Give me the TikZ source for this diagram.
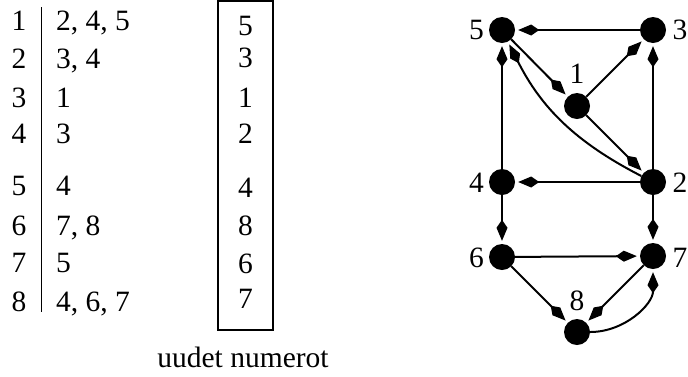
\documentclass[tikz,border=0pt]{standalone}
\usepackage{fontspec}
\setmainfont{Liberation Serif}
\usetikzlibrary{arrows.meta}
\begin{document}
\begin{tikzpicture}[x=1pt,y=-1pt,
  txt/.style={inner sep=0pt,font=\fontsize{29.5}{34}\selectfont},
  vert/.style={circle,fill=black,inner sep=0pt,minimum size=26pt},
  arr/.style={line width=2pt,-{Kite[length=21pt,width=11pt,inset=8pt]},shorten >=3pt},
]
\useasboundingbox (0,0) rectangle (688,376);
% adjacency table
\foreach \n/\l/\y in {1/{2, 4, 5}/30,2/{3, 4}/68,3/1/107,4/3/143,5/4/195,6/{7, 8}/235,7/5/272,8/{4, 6, 7}/311}{
  \node[txt,anchor=base] (k\n) at (19,\y) {\n};
  \node[txt,anchor=base west] (l\n) at (56,\y) {\l};
}
\draw[line width=1.2pt] (41.7,7) coordinate (rt) -- (41.7,312) coordinate (rb);
% renumbering box
\draw[line width=1.2pt] (218,1) rectangle (273,330);
\foreach \v/\y [count=\i] in {5/35,3/67,1/107,2/143,4/197,8/235,6/273,7/308}{
  \node[txt,anchor=base] (b\i) at (245.5,\y) {\v};
}
\node[txt,anchor=base] (cap) at (243,367) {uudet numerot};
% graph
\node[vert] (v5) at (502,30) {};
\node[vert] (v3) at (653,30) {};
\node[vert] (v1) at (577,106) {};
\node[vert] (v4) at (502,182) {};
\node[vert] (v2) at (653,182) {};
\node[vert] (v6) at (502,257) {};
\node[vert] (v7) at (653,256) {};
\node[vert] (v8) at (577,332) {};
\node[txt,anchor=base east] (n5) at (484,39) {5};
\node[txt,anchor=base east] (n3) at (687.5,39) {3};
\node[txt,anchor=base] (n1) at (577,83) {1};
\node[txt,anchor=base east] (n4) at (484,192) {4};
\node[txt,anchor=base east] (n2) at (687.5,192) {2};
\node[txt,anchor=base east] (n6) at (484,267) {6};
\node[txt,anchor=base east] (n7) at (687.5,267) {7};
\node[txt,anchor=base] (n8) at (577,310) {8};
\draw[arr] (v3) -- (v5);
\draw[arr] (v5) -- (v1);
\draw[arr] (v1) -- (v3);
\draw[arr] (v1) -- (v2);
\draw[arr] (v2) to[bend left=18] (v5);
\draw[arr] (v2) -- (v3);
\draw[arr] (v2) -- (v4);
\draw[arr] (v4) -- (v5);
\draw[arr] (v4) -- (v6);
\draw[arr] (v2) -- (v7);
\draw[arr] (v6) -- (v7);
\draw[arr] (v6) -- (v8);
\draw[arr] (v7) -- (v8);
\draw[arr] (v8) to[bend right=45] (v7);
\end{tikzpicture}
\end{document}
